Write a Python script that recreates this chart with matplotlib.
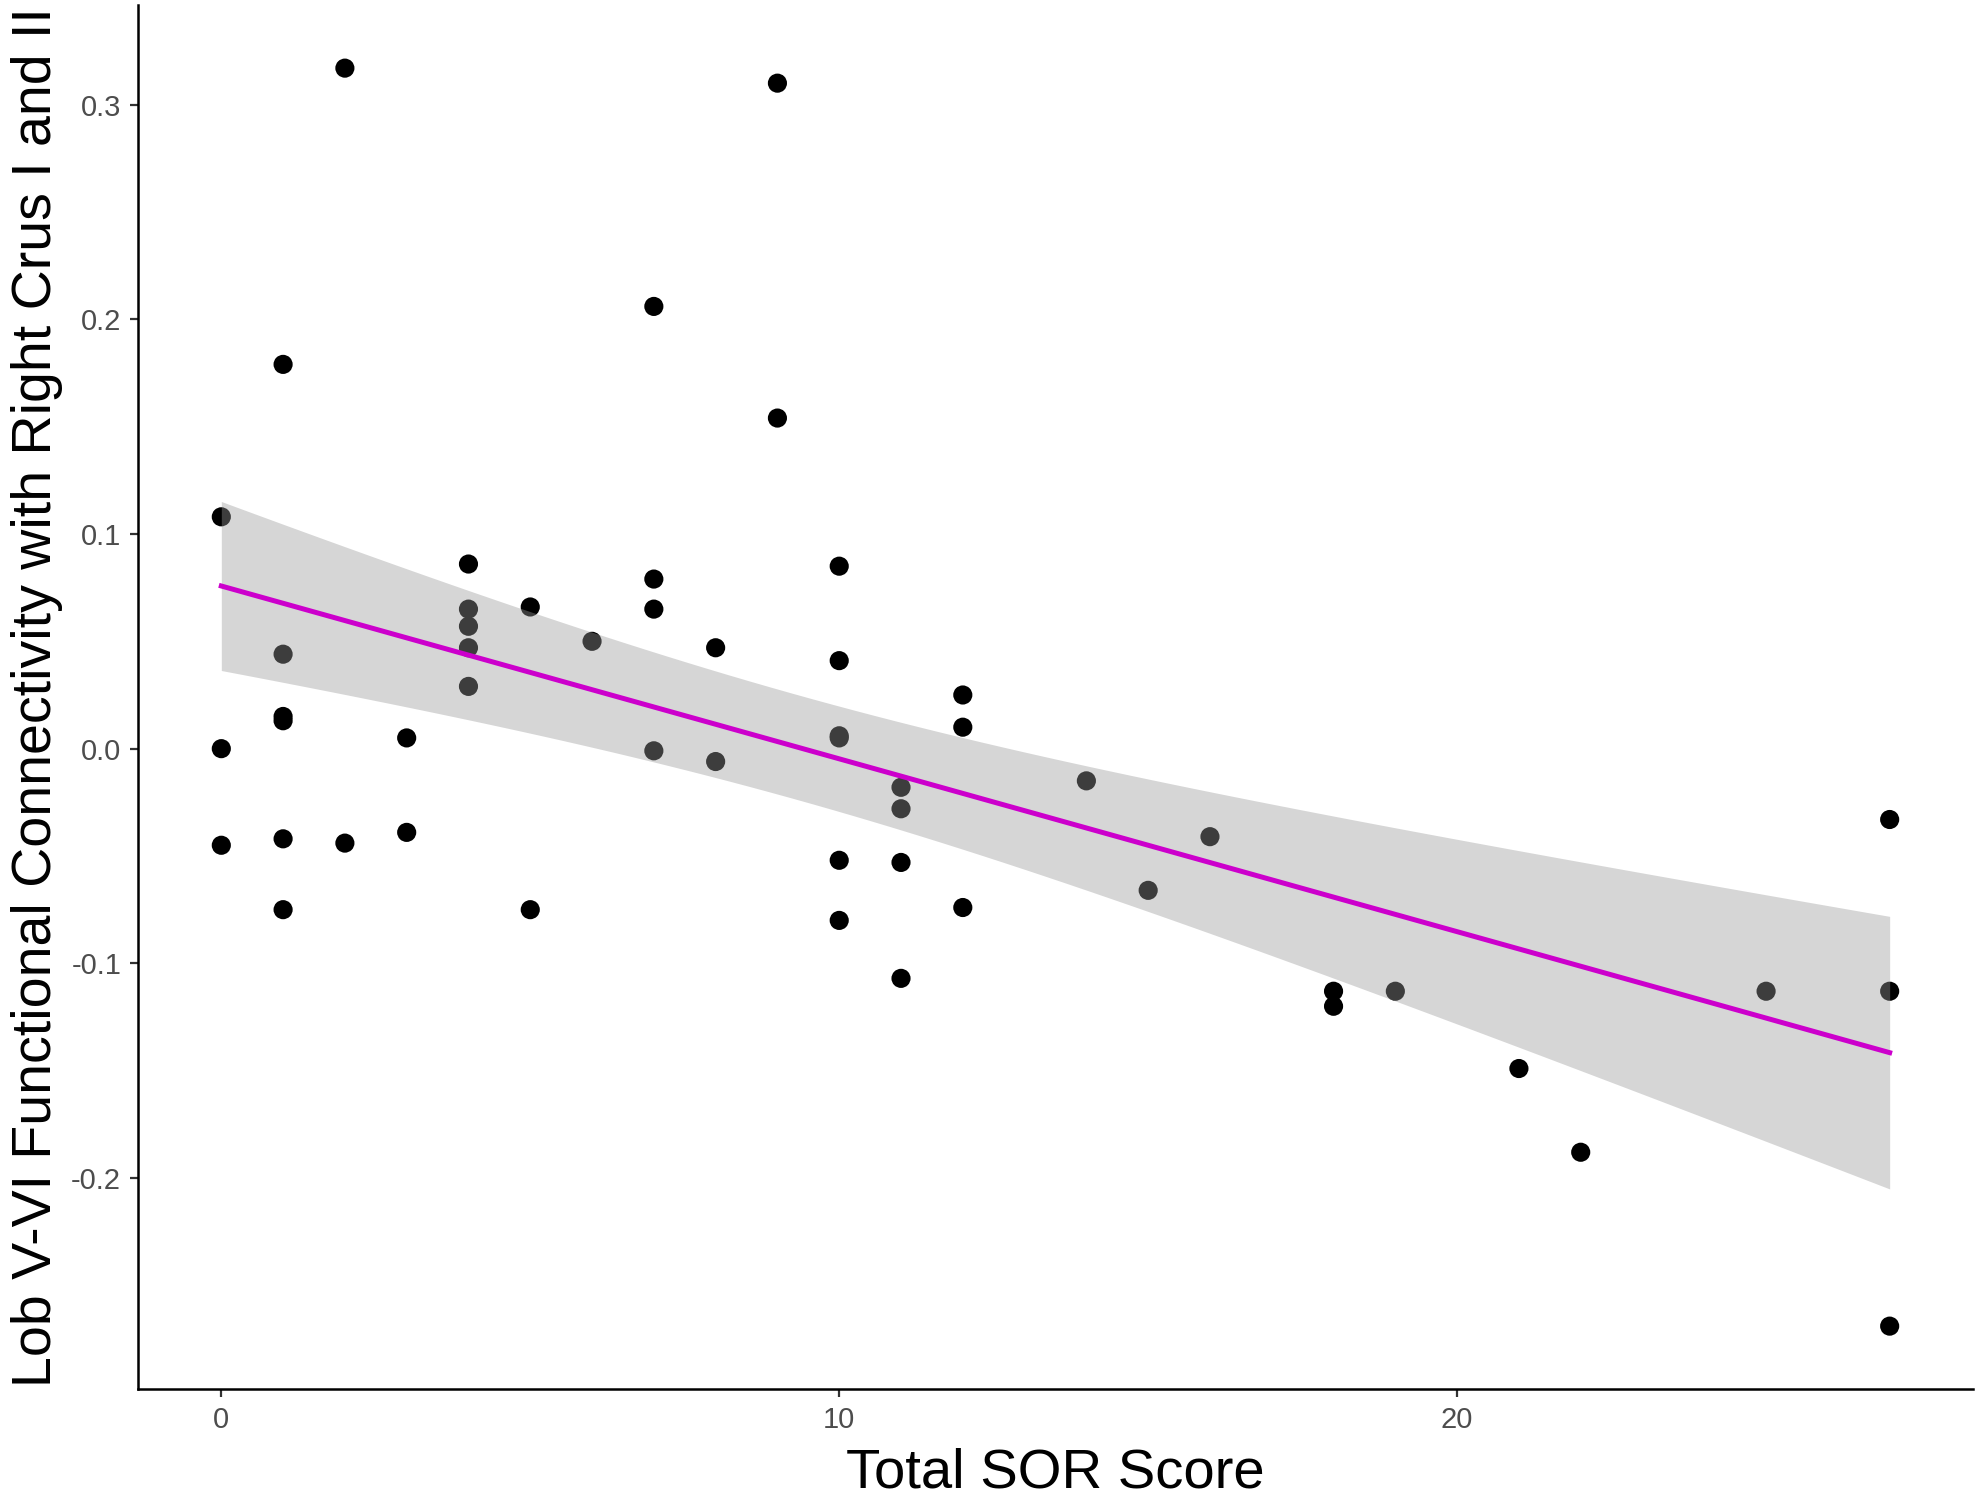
import matplotlib
matplotlib.use("Agg")
import matplotlib.pyplot as plt
import numpy as np

# Total SOR score per participant
sor_score = [0, 0, 0,
             1, 1, 1, 1, 1, 1,
             2, 2,
             3, 3,
             4, 4, 4, 4, 4,
             5, 5,
             6,
             7, 7, 7, 7,
             8, 8,
             9, 9,
             10, 10, 10, 10, 10, 10,
             11, 11, 11, 11,
             12, 12, 12,
             14, 15, 16,
             18, 18, 19, 21, 22, 25,
             27, 27, 27]

# Lob V-VI functional connectivity with right Crus I and II
connectivity = [0.108, 0.000, -0.045,
                0.179, 0.044, 0.015, 0.013, -0.042, -0.075,
                0.317, -0.044,
                0.005, -0.039,
                0.086, 0.065, 0.057, 0.047, 0.029,
                0.066, -0.075,
                0.050,
                0.206, 0.079, 0.065, -0.001,
                0.047, -0.006,
                0.310, 0.154,
                0.085, 0.041, 0.006, 0.005, -0.052, -0.080,
                -0.018, -0.028, -0.053, -0.107,
                0.025, 0.010, -0.074,
                -0.015, -0.066, -0.041,
                -0.113, -0.120, -0.113, -0.149, -0.188, -0.113,
                -0.033, -0.113, -0.269]

x_ticks = [0, 10, 20]
y_ticks = [-0.2, -0.1, 0.0, 0.1, 0.2, 0.3]
y_tick_labels = ["-0.2", "-0.1", "0.0", "0.1", "0.2", "0.3"]

plt.rcParams['font.family'] = ['Liberation Sans', 'DejaVu Sans']

x = np.array(sor_score, dtype=float)
y = np.array(connectivity)

# linear fit with 95% confidence band (like geom_smooth(method='lm'))
slope, intercept = np.polyfit(x, y, 1)
n = len(x)
resid = y - (slope * x + intercept)
s = np.sqrt(np.sum(resid ** 2) / (n - 2))
t_crit = 2.006
x_fit = np.linspace(x.min(), x.max(), 80)
y_fit = slope * x_fit + intercept
se = s * np.sqrt(1.0 / n + (x_fit - x.mean()) ** 2 / np.sum((x - x.mean()) ** 2))

fig = plt.figure(figsize=(19.84, 14.96), dpi=100)
ax = fig.add_axes([0.0695, 0.0715, 0.925, 0.925])

ax.scatter(x, y, s=190, color='black', edgecolors='none', zorder=2)
ax.fill_between(x_fit, y_fit - t_crit * se, y_fit + t_crit * se,
                color='#999999', alpha=0.4, linewidth=0, zorder=3)
ax.plot(x_fit, y_fit, color='#CC00CC', linewidth=3.6, zorder=4)

ax.set_xlim(-1.35, 28.35)
ax.set_ylim(-0.2983, 0.3463)
ax.set_xticks(x_ticks)
ax.set_yticks(y_ticks)
ax.set_yticklabels(y_tick_labels)

for side in ['top', 'right']:
    ax.spines[side].set_visible(False)
for side in ['left', 'bottom']:
    ax.spines[side].set_linewidth(1.8)
    ax.spines[side].set_color('black')

ax.tick_params(axis='both', length=6, width=1.6, color='#333333',
               labelsize=21, labelcolor='#4D4D4D', pad=6)

ax.set_xlabel('Total SOR Score', fontsize=40.5, labelpad=10)
ax.set_ylabel('Lob V-VI Functional Connectivity with Right Crus I and II',
              fontsize=40, labelpad=6)

fig.savefig('out.png', dpi=100)
